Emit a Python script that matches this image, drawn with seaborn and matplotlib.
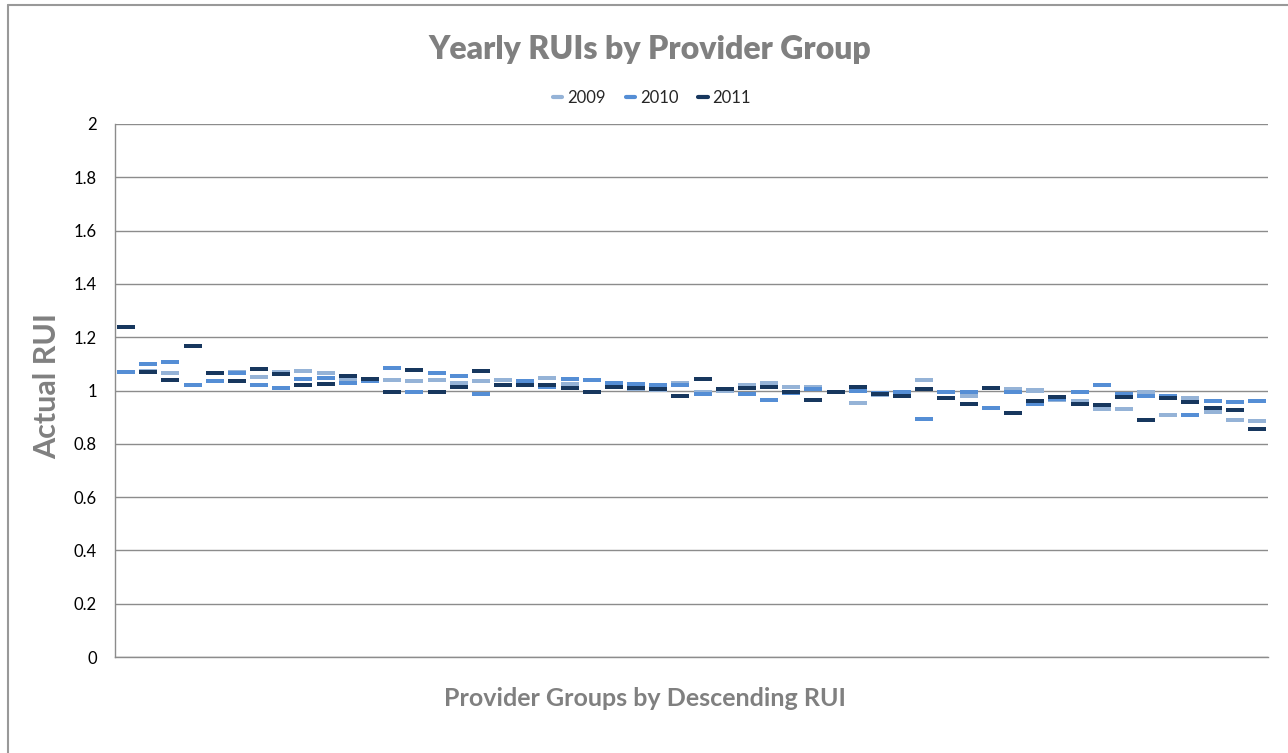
import matplotlib
matplotlib.use("Agg")
import matplotlib.pyplot as plt
from matplotlib.lines import Line2D
import numpy as np
import pandas as pd
import seaborn as sns

# ---- data ----
years = ["2009", "2010", "2011"]
colors = ["#95B3D7", "#558ED5", "#17375E"]

rui_2009 = [1.070, 1.075, 1.067, 1.019, 1.065, 1.068, 1.052, 1.071, 1.075, 1.067,
            1.042, 1.040, 1.041, 1.034, 1.041, 1.030, 1.034, 1.041, 1.035, 1.048,
            1.026, 1.038, 1.025, 1.005, 1.003, 1.027, 0.995, 1.000, 1.019, 1.030,
            1.015, 1.015, 0.993, 0.952, 0.982, 0.990, 1.041, 0.995, 0.981, 1.008,
            1.007, 1.000, 0.963, 0.960, 0.929, 0.929, 0.996, 0.907, 0.970, 0.921,
            0.888, 0.884]
rui_2010 = [1.071, 1.100, 1.108, 1.022, 1.037, 1.065, 1.022, 1.011, 1.045, 1.048,
            1.030, 1.037, 1.086, 0.996, 1.067, 1.056, 0.985, 1.020, 1.037, 1.015,
            1.045, 1.041, 1.030, 1.026, 1.022, 1.022, 0.985, 1.005, 0.985, 0.963,
            0.990, 1.007, 0.993, 1.000, 0.992, 0.993, 0.892, 0.996, 0.993, 0.933,
            0.993, 0.950, 0.968, 0.993, 1.019, 0.985, 0.978, 0.978, 0.907, 0.959,
            0.955, 0.959]
rui_2011 = [1.238, 1.071, 1.041, 1.168, 1.067, 1.037, 1.082, 1.063, 1.019, 1.026,
            1.056, 1.045, 0.996, 1.078, 0.996, 1.015, 1.075, 1.019, 1.019, 1.022,
            1.011, 0.996, 1.015, 1.011, 1.007, 0.978, 1.045, 1.007, 1.011, 1.015,
            0.993, 0.963, 0.993, 1.015, 0.985, 0.978, 1.007, 0.970, 0.948, 1.011,
            0.914, 0.959, 0.974, 0.948, 0.944, 0.974, 0.888, 0.970, 0.955, 0.933,
            0.925, 0.855]
groups = list(range(1, len(rui_2009) + 1))
y_ticks = [0, 0.2, 0.4, 0.6, 0.8, 1, 1.2, 1.4, 1.6, 1.8, 2]
y_tick_labels = ["0", "0.2", "0.4", "0.6", "0.8", "1", "1.2", "1.4", "1.6", "1.8", "2"]

frames = []
for yr, vals in zip(years, [rui_2009, rui_2010, rui_2011]):
    frames.append(pd.DataFrame({"group": groups, "rui": vals, "year": yr}))
df = pd.concat(frames, ignore_index=True)

# ---- style ----
sns.set_style("white")
plt.rcParams["font.family"] = ["Lato", "DejaVu Sans"]

fig = plt.figure(figsize=(12.88, 7.53), dpi=100)
ax = fig.add_axes([115 / 1288, 1 - 657 / 753, (1268 - 115) / 1288, (657 - 124) / 753])

dash = [(-4.5, -1), (4.5, -1), (4.5, 1), (-4.5, 1), (-4.5, -1)]
sns.scatterplot(data=df, x="group", y="rui", hue="year", hue_order=years,
                palette=colors, marker=dash, s=168, linewidth=0,
                edgecolor="none", legend=False, ax=ax, zorder=3)

grid_c = "#8C8C8C"
ax.set_ylim(0, 2)
ax.set_xlim(0.5, len(groups) + 0.5)
ax.set_yticks(y_ticks)
ax.set_yticklabels(y_tick_labels)
ax.set_xticks([])
ax.yaxis.grid(True, color=grid_c, linewidth=1)
ax.set_axisbelow(True)
for side in ["top", "right"]:
    ax.spines[side].set_visible(False)
for side in ["left", "bottom"]:
    ax.spines[side].set_color(grid_c)
    ax.spines[side].set_linewidth(1)
ax.tick_params(axis="y", direction="out", length=4.5, width=1, color=grid_c,
               pad=8.5, labelsize=12, labelcolor="#000000")

label_c = "#808080"
ax.set_xlabel("Provider Groups by Descending RUI", fontsize=18, fontweight="bold",
              color=label_c)
ax.xaxis.label.set_va("center")
ax.xaxis.set_label_coords(0.46, -(698 - 657) / 533)
ax.set_ylabel("Actual RUI", fontsize=22, fontweight="bold", color=label_c)
ax.yaxis.label.set_va("center")
ax.yaxis.set_label_coords((47 - 115) / 1153, (657 - 386) / 533)

fig.text(650 / 1288, 1 - 50 / 753, "Yearly RUIs by Provider Group", ha="center",
         va="center", fontsize=23, fontweight="heavy", color=label_c)

handles = [Line2D([], [], color=c, lw=3) for c in colors]
fig.legend(handles, years, loc="center", bbox_to_anchor=(652 / 1288, 1 - 98 / 753),
           ncol=3, frameon=False, fontsize=12, handlelength=0.55, handletextpad=0.3,
           columnspacing=1.2)

# chart border (only top and left visible in the reference crop)
fig.add_artist(Line2D([7.5 / 1288, 1], [1 - 4.5 / 753, 1 - 4.5 / 753],
                      color="#999999", lw=1.5, transform=fig.transFigure))
fig.add_artist(Line2D([7.5 / 1288, 7.5 / 1288], [0, 1 - 4.5 / 753],
                      color="#999999", lw=1.5, transform=fig.transFigure))

fig.savefig("out.png", dpi=100)
